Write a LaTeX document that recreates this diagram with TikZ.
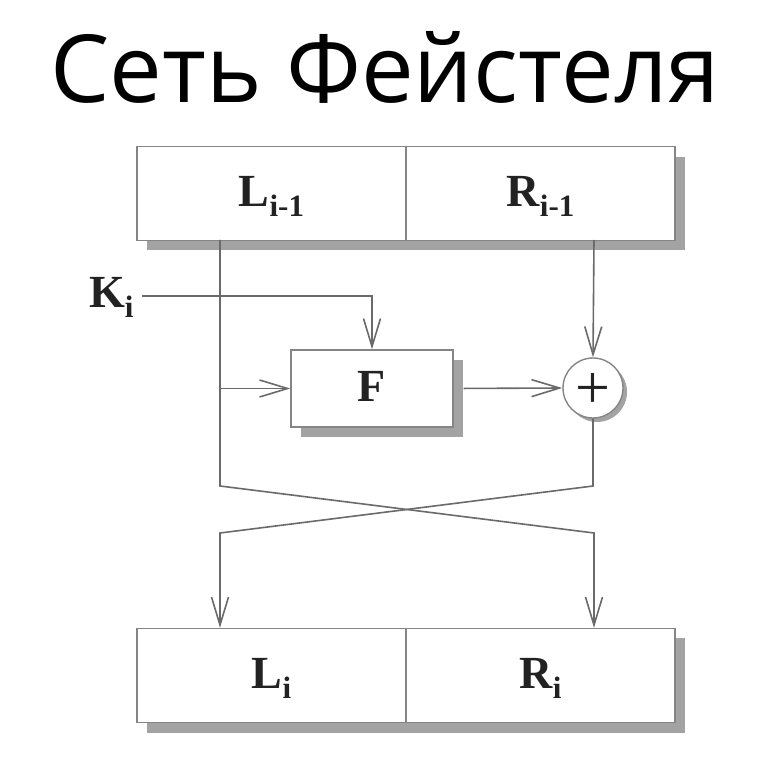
\documentclass[tikz,border=0pt]{standalone}
\usepackage{fontspec}
\setmainfont{Liberation Serif}
\newfontfamily\titlefont{Open Sans}
\usetikzlibrary{arrows.meta}
\definecolor{ln}{HTML}{6A6A6A}
\definecolor{bd}{HTML}{858585}
\definecolor{sh}{HTML}{A3A3A3}
\definecolor{tx}{HTML}{222222}
\newcommand\sublab[2]{#1\raisebox{-10pt}{\fontsize{31}{31}\selectfont #2}}
\begin{document}
\begin{tikzpicture}[x=1pt,y=-1pt,
  half/.style={draw=bd, line width=1.4pt, fill=white, minimum width=269pt, minimum height=94pt, inner sep=0pt, font=\fontsize{46}{46}\selectfont\bfseries, text=tx, text height=31pt, text depth=5pt},
  fbox/.style={draw=bd, line width=1.4pt, fill=white, minimum width=162pt, minimum height=77pt, inner sep=0pt, font=\fontsize{46}{46}\selectfont\bfseries, text=tx, text height=31pt, text depth=4pt},
  xorc/.style={circle, draw=bd, line width=1.4pt, fill=white, minimum size=60pt, inner sep=0pt, text=tx},
  lab/.style={font=\fontsize{46}{46}\selectfont\bfseries, text=tx, inner sep=0pt},
  wire/.style={draw=ln, line width=1.6pt},
  arr/.style={wire, -{Straight Barb[length=28pt,width=17pt,line width=1.6pt]}},
  shad/.style={fill=sh, draw=none},
]
\useasboundingbox (0,0) rectangle (766,759);
\fill[white] (0,0) rectangle (766,759);
\node[anchor=base, inner sep=0pt, font=\titlefont\fontsize{94}{94}\selectfont] (title) at (385,103) {Сеть Фейстеля};

% shadows
\fill[shad] (147,157) rectangle (685,250);
\fill[shad] (147,638) rectangle (685,733);
\fill[shad] (301,360) rectangle (463,437);
\fill[shad] (597,392) circle (30);

% nodes
\node[half] (L0) at (271.5,193.5) {\sublab{L}{i-1}};
\node[half] (R0) at (540.5,193.5) {\sublab{R}{i-1}};
\node[half] (L1) at (271.5,675.5) {\sublab{L}{i}};
\node[half] (R1) at (540.5,675.5) {\sublab{R}{i}};
\node[fbox] (F) at (372,388.5) {F};
\node[xorc] (X) at (593,388) {\raisebox{0pt}[0pt][0pt]{\fontsize{62}{62}\selectfont\raisebox{-0.33em}{+}}};
\node[lab, anchor=base west] (K) at (89,308) {\sublab{K}{i}};

\coordinate (kstart) at (142,296);
\coordinate (lt) at (220,240);
\coordinate (rt) at (594,240);
\coordinate (lb1) at (220,486);
\coordinate (lb2) at (594,533);
\coordinate (rb1) at (593,486);
\coordinate (rb2) at (220,533);
\coordinate (fin) at (220,388.5);

% wires
\draw[arr] (kstart) -| (F.north);
\draw[arr] (fin) -- (F.west);
\draw[arr, shorten <=10pt] (F.east) -- (X.west);
\draw[arr] (rt) -- (X.north);
\draw[arr] (lt) -- (lb1) -- (lb2) -- (lb2 |- R1.north);
\draw[arr] (X.south) -- (rb1) -- (rb2) -- (rb2 |- L1.north);
\end{tikzpicture}
\end{document}
